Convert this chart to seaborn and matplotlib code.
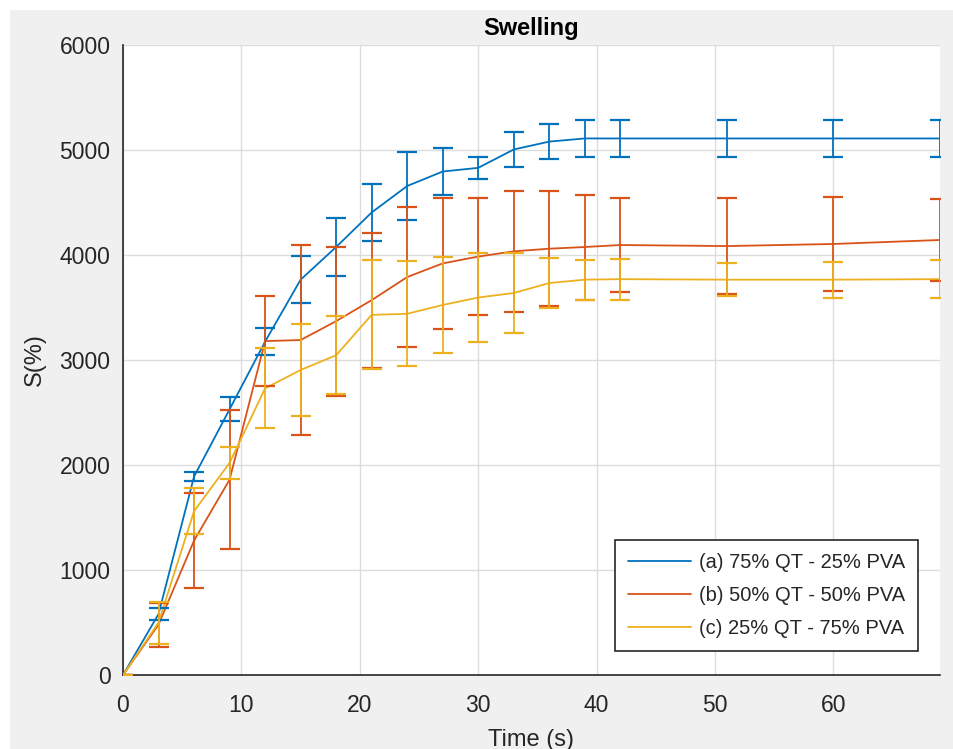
import numpy as np
import pandas as pd
import matplotlib
matplotlib.use("Agg")
import matplotlib.pyplot as plt
from matplotlib.patches import Rectangle
import seaborn as sns

# ---- data ----
time_s = [0, 3, 6, 9, 12, 15, 18, 21, 24, 27, 30, 33, 36, 39, 42, 51, 60, 69]
labels = ["(a) 75% QT - 25% PVA", "(b) 50% QT - 50% PVA", "(c) 25% QT - 75% PVA"]
swell_a = [0, 580, 1890, 2530, 3175, 3765, 4076, 4405, 4657, 4795, 4830, 5005, 5080, 5110, 5110, 5110, 5110, 5110]
err_a = [0, 60, 40, 115, 130, 225, 275, 275, 324, 224, 105, 165, 170, 180, 180, 180, 180, 180]
swell_b = [0, 480, 1280, 1860, 3180, 3190, 3370, 3570, 3790, 3920, 3985, 4035, 4060, 4076, 4095, 4085, 4105, 4143]
err_b = [0, 210, 450, 660, 430, 905, 710, 643, 667, 620, 560, 575, 550, 500, 450, 460, 450, 390]
swell_c = [0, 500, 1560, 2020, 2730, 2905, 3045, 3430, 3440, 3524, 3595, 3638, 3733, 3765, 3770, 3765, 3765, 3770]
err_c = [0, 200, 220, 150, 380, 435, 370, 520, 500, 460, 420, 380, 240, 190, 195, 160, 170, 180]
colors = ["#0072BD", "#D95319", "#EDB120"]

df = pd.DataFrame({
    "Time": time_s * 3,
    "S": swell_a + swell_b + swell_c,
    "Sample": [labels[0]] * len(time_s) + [labels[1]] * len(time_s) + [labels[2]] * len(time_s),
})

sns.set_theme(style="white")
plt.rcParams["font.family"] = ["Liberation Sans", "DejaVu Sans"]

fig = plt.figure(figsize=(9.54, 7.49), dpi=100)
fig.patch.set_facecolor("white")
# grey MATLAB-like figure background (leaving a thin white border top/left)
fig.patches.append(Rectangle((10 / 954, 0), 1, 1 - 10 / 749, transform=fig.transFigure,
                             facecolor="#F0F0F0", edgecolor="none", zorder=-10))
ax = fig.add_axes([123 / 954, 1 - 675 / 749, (940 - 123) / 954, (675 - 45) / 749])
ax.set_facecolor("white")

sns.lineplot(data=df, x="Time", y="S", hue="Sample", palette=colors,
             linewidth=1.3, ax=ax, legend=False, zorder=3)

for ys, es, c in zip([swell_a, swell_b, swell_c], [err_a, err_b, err_c], colors):
    ax.errorbar(time_s, ys, yerr=es, fmt="none", ecolor=c, elinewidth=1.3,
                capsize=7, capthick=1.6, zorder=3)

ax.set_xlim(0, 69)
ax.set_ylim(0, 6000)
ax.set_xticks([0, 10, 20, 30, 40, 50, 60])
ax.set_yticks([0, 1000, 2000, 3000, 4000, 5000, 6000])
ax.grid(True, color="#DCDCDC", linewidth=1.0)
ax.set_axisbelow(True)
for s in ["top", "right"]:
    ax.spines[s].set_visible(False)
for s in ["left", "bottom"]:
    ax.spines[s].set_color("#262626")
    ax.spines[s].set_linewidth(1.2)
ax.tick_params(axis="both", direction="in", length=6, width=1.2, color="#262626",
               labelsize=16.5, labelcolor="#262626")
ax.tick_params(axis="x", pad=14)
ax.tick_params(axis="y", pad=9)

ax.set_xlabel("Time (s)", fontsize=17, color="#262626", labelpad=8)
ax.set_ylabel("S(%)", fontsize=17, color="#262626", labelpad=10)
ax.set_title("Swelling", fontsize=17, fontweight="bold", color="black", pad=7)

handles = [plt.Line2D([0], [0], color=c, linewidth=1.3) for c in colors]
leg = ax.legend(handles, labels, loc="lower right", bbox_to_anchor=(0.9855, 0.022),
                frameon=True, fancybox=False, handlelength=3.1,
                borderpad=0.65, labelspacing=0.7, handletextpad=0.4,
                prop={"family": ["Liberation Sans"], "size": 14.5})
leg.get_frame().set_edgecolor("#262626")
leg.get_frame().set_linewidth(1.2)
leg.get_frame().set_facecolor("white")
leg.get_frame().set_alpha(1)

fig.savefig("out.png", dpi=100)
